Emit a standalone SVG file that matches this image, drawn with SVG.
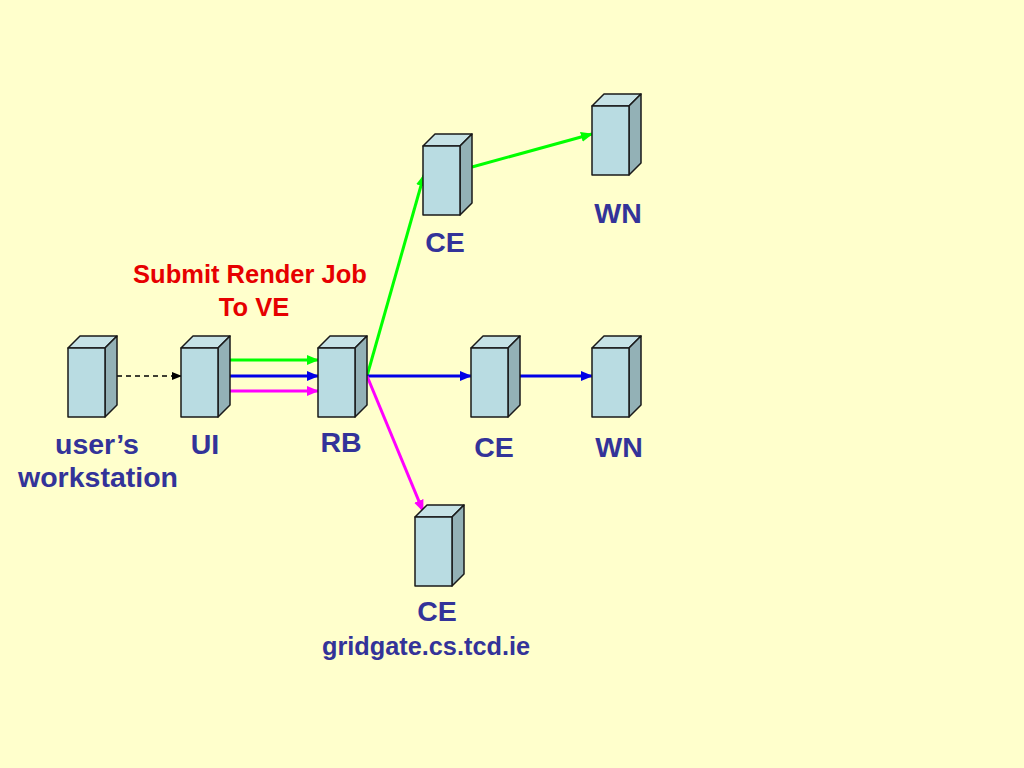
<svg xmlns="http://www.w3.org/2000/svg" width="1024" height="768" viewBox="0 0 1024 768">
<style>
.front{fill:#B9DCE2;stroke:#1a1a1a;stroke-width:1.5;stroke-linejoin:round}
.side{fill:#93B1B6;stroke:#1a1a1a;stroke-width:1.5;stroke-linejoin:round}
.top{fill:#C6E2E6;stroke:#1a1a1a;stroke-width:1.5;stroke-linejoin:round}
.lbl{font-family:"Liberation Sans",Arial,sans-serif;font-weight:bold;font-size:28.5px;fill:#333399;text-anchor:middle}
.red{font-family:"Liberation Sans",Arial,sans-serif;font-weight:bold;font-size:25.5px;fill:#E60000;text-anchor:middle}
.g{stroke:#00FF00;stroke-width:3;fill:none}
.b{stroke:#0000E6;stroke-width:3;fill:none}
.m{stroke:#FF00FF;stroke-width:3;fill:none}
</style>
<defs>
<symbol id="box" overflow="visible">
<polygon class="top" points="0,0 12,-12 49,-12 37,0"/>
<polygon class="side" points="37,0 49,-12 49,57 37,69"/>
<rect class="front" x="0" y="0" width="37" height="69"/>
</symbol>
<marker id="ag" markerWidth="12" markerHeight="10" refX="11" refY="5" orient="auto" markerUnits="userSpaceOnUse"><path d="M0,0 L12,5 L0,10 z" fill="#00FF00"/></marker>
<marker id="ab" markerWidth="12" markerHeight="10" refX="11" refY="5" orient="auto" markerUnits="userSpaceOnUse"><path d="M0,0 L12,5 L0,10 z" fill="#0000E6"/></marker>
<marker id="am" markerWidth="12" markerHeight="10" refX="11" refY="5" orient="auto" markerUnits="userSpaceOnUse"><path d="M0,0 L12,5 L0,10 z" fill="#FF00FF"/></marker>
<marker id="ak" markerWidth="10" markerHeight="8" refX="9" refY="4" orient="auto" markerUnits="userSpaceOnUse"><path d="M0,0 L10,4 L0,8 z" fill="#000"/></marker>
</defs>
<rect x="0" y="0" width="1024" height="768" fill="#FFFFCC"/>
<g id="connectors">
<line x1="117" y1="376" x2="181" y2="376" stroke="#000" stroke-width="1.5" stroke-dasharray="5,4" marker-end="url(#ak)"/>
<line class="g" x1="230" y1="360" x2="318" y2="360" marker-end="url(#ag)"/>
<line class="b" x1="230" y1="376" x2="318" y2="376" marker-end="url(#ab)"/>
<line class="m" x1="230" y1="391" x2="318" y2="391" marker-end="url(#am)"/>
<line class="g" x1="367" y1="376" x2="424" y2="175" marker-end="url(#ag)"/>
<line class="g" x1="472" y1="167" x2="592" y2="134" marker-end="url(#ag)"/>
<line class="b" x1="367" y1="376" x2="471" y2="376" marker-end="url(#ab)"/>
<line class="b" x1="520" y1="376" x2="592" y2="376" marker-end="url(#ab)"/>
<line class="m" x1="367" y1="376" x2="423" y2="511" marker-end="url(#am)"/>
</g>
<g id="ws"><use href="#box" x="68" y="348"/><text class="lbl" x="97" y="454">user’s</text><text class="lbl" x="98" y="487">workstation</text></g>
<g id="ui"><use href="#box" x="181" y="348"/><text class="lbl" x="205" y="454">UI</text></g>
<g id="rb"><use href="#box" x="318" y="348"/><text class="lbl" x="341" y="452">RB</text></g>
<g id="ce1"><use href="#box" x="423" y="146"/><text class="lbl" x="445" y="252">CE</text></g>
<g id="wn1"><use href="#box" x="592" y="106"/><text class="lbl" x="618" y="223">WN</text></g>
<g id="ce2"><use href="#box" x="471" y="348"/><text class="lbl" x="494" y="457">CE</text></g>
<g id="wn2"><use href="#box" x="592" y="348"/><text class="lbl" x="619" y="457">WN</text></g>
<g id="ce3"><use href="#box" x="415" y="517"/><text class="lbl" x="437" y="621">CE</text><text class="lbl" x="426" y="655" style="font-size:25.3px">gridgate.cs.tcd.ie</text></g>
<g id="note"><text class="red" x="250" y="283">Submit Render Job</text><text class="red" x="254" y="316">To VE</text></g>
</svg>
